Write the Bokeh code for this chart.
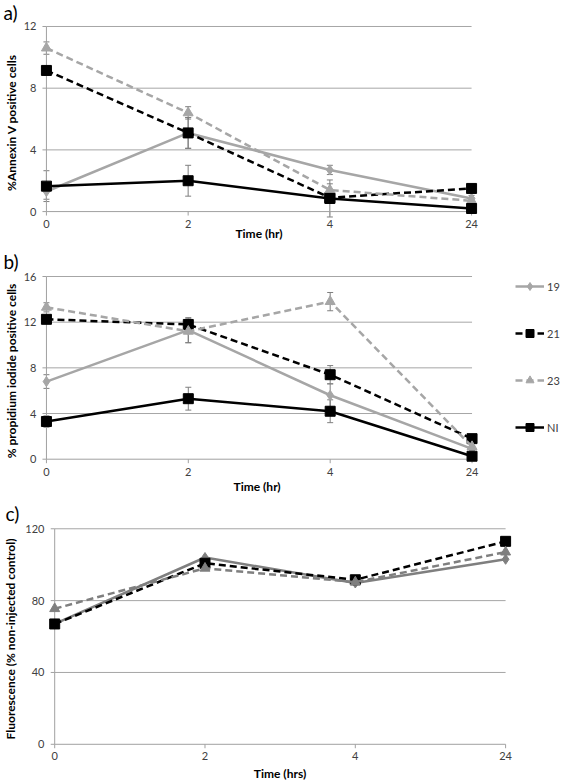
from bokeh.plotting import figure
from bokeh.models import (Range1d, FixedTicker, Whisker, TeeHead, ColumnDataSource,
                          Legend, LegendItem, Title)
from bokeh.embed import file_html
from bokeh.resources import INLINE

# ---------------- data ----------------
time_labels = ["0", "2", "4", "24"]
series_names = ["19", "21", "23", "NI"]

# a) % Annexin V positive cells
annexin_19 = [1.3, 5.1, 2.7, 0.85]
annexin_21 = [9.15, 5.1, 0.9, 1.5]
annexin_23 = [10.6, 6.4, 1.4, 0.7]
annexin_NI = [1.65, 2.0, 0.85, 0.2]
annexin_err_19 = [0.5, 1.0, 0.3, 0.2]
annexin_err_21 = [0.3, 1.0, 0.3, 0.2]
annexin_err_23 = [0.4, 0.4, 0.4, 0.2]
annexin_err_NI = [1.0, 1.0, 1.2, 0.1]

# b) % propidium iodide positive cells
pi_19 = [6.8, 11.3, 5.6, 0.9]
pi_21 = [12.25, 11.8, 7.4, 1.8]
pi_23 = [13.3, 11.2, 13.8, 1.1]
pi_NI = [3.3, 5.3, 4.2, 0.26]
pi_err_19 = [0.6, 1.1, 1.0, 0.3]
pi_err_21 = [0.3, 0.5, 0.8, 0.3]
pi_err_23 = [0.4, 1.0, 0.8, 0.3]
pi_err_NI = [0.5, 1.0, 1.0, 0.2]

# c) Fluorescence (% non-injected control)
fluor_19 = [67, 104, 89.8, 103]
fluor_21 = [67, 100.8, 91.6, 113]
fluor_23 = [75.5, 98, 90.3, 107]

annexin_ticks = [0, 4, 8, 12]
pi_ticks = [0, 4, 8, 12, 16]
fluor_ticks = [0, 40, 80, 120]

# ---------------- style ----------------
FONT = "Lato"
LIGHT = "#A6A6A6"
MID = "#7F7F7F"
AXIS = "#A0A0A0"
TICKTXT = "#404040"
W = 567

style_ab = {
    "19": dict(color=LIGHT, dash="solid", marker="diamond", size=10),
    "21": dict(color="black", dash="7 4", marker="square", size=10),
    "23": dict(color=LIGHT, dash="7 4", marker="triangle", size=10),
    "NI": dict(color="black", dash="solid", marker="square", size=10),
}
style_c = {
    "19": dict(color=MID, dash="solid", marker="diamond", size=10),
    "21": dict(color="black", dash="7 4", marker="square", size=10),
    "23": dict(color=MID, dash="7 4", marker="triangle", size=10),
}


def make_panel(H, FL, FR, top_px, zero_px, left_px, right_px, yticks, ylabel, xlabel,
               tag, series, errors, styles, xl_standoff, yl_standoff,
               padT=2, padB=8, legend=False, xlabel_left=None):
    n = len(time_labels) - 1
    ymax = yticks[-1]
    unit_x = (right_px - left_px) / n
    unit_y = (zero_px - top_px) / ymax
    ft = round(top_px - padT)
    fb = round(zero_px + padB)
    x0 = (FL - left_px) / unit_x
    x1 = (FR - left_px) / unit_x
    y1 = (zero_px - ft) / unit_y
    y0 = (zero_px - fb) / unit_y

    p = figure(width=W, height=H, x_range=Range1d(x0, x1), y_range=Range1d(y0, y1),
               output_backend="svg", toolbar_location=None,
               min_border_left=FL, min_border_right=W - FR,
               min_border_top=ft, min_border_bottom=H - fb,
               outline_line_color=None, background_fill_color="white",
               border_fill_color="white")
    p.grid.visible = False

    # panel tag as a left-aligned title
    p.title = Title(text=tag, align="left", offset=-FL, standoff=0,
                    vertical_align="top", text_font=FONT, text_font_size="19px",
                    text_font_style="normal", text_color="black")

    xs = list(range(len(time_labels)))

    # gridlines, axis lines and tick marks (between first and last category)
    gy = yticks[1:]
    p.segment(x0=[0] * len(gy), x1=[n] * len(gy), y0=gy, y1=gy,
              line_color=LIGHT, line_width=1)
    p.segment(x0=[0, 0], x1=[0, n], y0=[0, 0], y1=[ymax, 0],
              line_color=AXIS, line_width=1)
    p.segment(x0=[0] * len(yticks), x1=[-4 / unit_x] * len(yticks), y0=yticks, y1=yticks,
              line_color=AXIS, line_width=1)
    p.segment(x0=xs, x1=xs, y0=[0] * len(xs), y1=[-4 / unit_y] * len(xs),
              line_color=AXIS, line_width=1)

    # axes (labels only)
    xa = p.xaxis[0]
    xa.ticker = FixedTicker(ticks=xs)
    xa.major_label_overrides = {i: t for i, t in enumerate(time_labels)}
    xa.minor_tick_line_color = None
    xa.major_tick_line_color = None
    xa.major_tick_out = 0
    xa.major_tick_in = 0
    xa.axis_line_color = None
    xa.major_label_text_font = FONT
    xa.major_label_text_font_size = "11px"
    xa.major_label_text_color = TICKTXT
    xa.major_label_standoff = 0
    if xlabel_left is None:
        xa.axis_label = xlabel
        xa.axis_label_text_font = FONT
        xa.axis_label_text_font_style = "bold"
        xa.axis_label_text_font_size = "12px"
        xa.axis_label_text_color = "black"
        xa.axis_label_standoff = xl_standoff
    else:
        # x-axis title placed under the category span (frame is wider for the legend)
        p.add_layout(Title(text=xlabel, align="left", offset=xlabel_left - FL,
                           standoff=xl_standoff, text_font=FONT, text_font_size="12px",
                           text_font_style="bold", text_color="black"), "below")

    ya = p.yaxis[0]
    ya.ticker = FixedTicker(ticks=yticks)
    ya.minor_tick_line_color = None
    ya.major_tick_line_color = None
    ya.major_tick_out = 0
    ya.major_tick_in = 0
    ya.axis_line_color = None
    ya.major_label_text_font = FONT
    ya.major_label_text_font_size = "11px"
    ya.major_label_text_color = TICKTXT
    ya.major_label_standoff = 0
    ya.axis_label = ylabel
    ya.axis_label_text_font = FONT
    ya.axis_label_text_font_style = "bold"
    ya.axis_label_text_font_size = "12px"
    ya.axis_label_text_color = "black"
    ya.axis_label_standoff = yl_standoff

    items = []
    for name in series:
        vals = series[name]
        st = styles[name]
        if errors is not None:
            err = errors[name]
            src = ColumnDataSource(dict(x=xs,
                                        upper=[v + e for v, e in zip(vals, err)],
                                        lower=[v - e for v, e in zip(vals, err)]))
            wk = Whisker(source=src, base="x", upper="upper", lower="lower",
                         line_color=MID, line_width=1, level="underlay",
                         upper_head=TeeHead(size=6, line_color=MID, line_width=1),
                         lower_head=TeeHead(size=6, line_color=MID, line_width=1))
            p.add_layout(wk)
        ln = p.line(xs, vals, line_color=st["color"], line_width=2.5,
                    line_dash=st["dash"])
        sc = p.scatter(xs, vals, marker=st["marker"], size=st["size"],
                       fill_color=st["color"], line_color=st["color"])
        items.append(LegendItem(label=name, renderers=[ln, sc]))

    if legend:
        glyph_h, spacing = 20, 27
        L = len(items) * glyph_h + (len(items) - 1) * spacing
        leg_top_local = 33
        leg = Legend(items=items,
                     location=(512 - FL, fb - leg_top_local - L),
                     padding=0, margin=0, spacing=spacing,
                     glyph_width=29, glyph_height=glyph_h, label_height=glyph_h,
                     label_standoff=3, label_text_font=FONT,
                     label_text_font_size="11px", label_text_color=TICKTXT,
                     border_line_color=None, background_fill_alpha=0)
        p.add_layout(leg)
    return p


pa = make_panel(H=243, FL=33, FR=481, top_px=24, zero_px=211,
                left_px=43, right_px=471,
                yticks=annexin_ticks, ylabel="%Annexin V positive cells",
                xlabel="Time (hr)", tag="a)",
                series={"19": annexin_19, "21": annexin_21, "23": annexin_23, "NI": annexin_NI},
                errors={"19": annexin_err_19, "21": annexin_err_21,
                        "23": annexin_err_23, "NI": annexin_err_NI},
                styles=style_ab, xl_standoff=-5, yl_standoff=2, padT=1)

pb = make_panel(H=252, FL=33, FR=567, top_px=276 - 243, zero_px=458.7 - 243,
                left_px=43, right_px=471,
                yticks=pi_ticks, ylabel="% propidium iodide positive cells",
                xlabel="Time (hr)", tag="b)",
                series={"19": pi_19, "21": pi_21, "23": pi_23, "NI": pi_NI},
                errors={"19": pi_err_19, "21": pi_err_21, "23": pi_err_23, "NI": pi_err_NI},
                styles=style_ab, xl_standoff=-4, yl_standoff=2, legend=True,
                xlabel_left=230)

pc = make_panel(H=288, FL=39, FR=515, top_px=528.3 - 495, zero_px=746.7 - 495,
                left_px=49.3, right_px=505,
                yticks=fluor_ticks, ylabel="Fluorescence (% non-injected control)",
                xlabel="Time (hrs)", tag="c)",
                series={"19": fluor_19, "21": fluor_21, "23": fluor_23},
                errors=None, styles=style_c, xl_standoff=3, yl_standoff=4, padB=7)

open("out.html", "w").write(file_html([pa, pb, pc], INLINE))
